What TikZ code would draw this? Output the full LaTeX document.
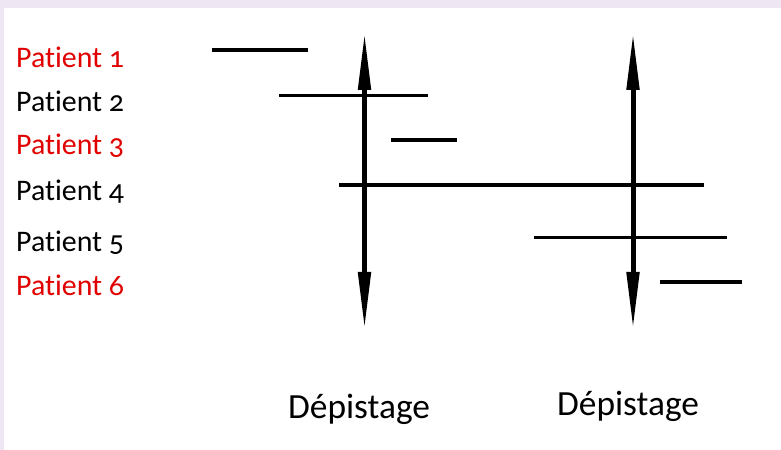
\documentclass[tikz,border=0pt]{standalone}
\usepackage{fontspec}
\setmainfont{Carlito}[Numbers=OldStyle,Ligatures={NoCommon}]
\usetikzlibrary{arrows.meta}
\definecolor{lav}{RGB}{238,230,243}
\definecolor{pred}{RGB}{225,0,0}
\tikzset{
  lbl/.style={anchor=base west, inner sep=0pt, font=\fontsize{30}{32}\selectfont},
  dep/.style={anchor=base west, inner sep=0pt, font=\fontsize{35.5}{38}\selectfont},
  seg/.style={line width=3.5bp, black},
  screen/.style={line width=5bp, {Triangle[length=58bp,width=12bp]}-{Triangle[length=58bp,width=12bp]}}
}
\begin{document}
\begin{tikzpicture}[x=1bp,y=-1bp]
\useasboundingbox (0,0) rectangle (781,450);
\fill[lav] (0,0) rectangle (781,450);
\fill[white] (4,8) rectangle (781,450);
% labels
\node[lbl, text=pred] (p1) at (16,68) {Patient 1};
\node[lbl] (p2) at (16,112) {Patient 2};
\node[lbl, text=pred] (p3) at (16,155) {Patient 3};
\node[lbl] (p4) at (16,201) {Patient 4};
\node[lbl] (p5) at (16,252) {Patient 5};
\node[lbl, text=pred] (p6) at (16,296) {Patient 6};
% periods
\coordinate (a1) at (212,50); \coordinate (b1) at (308,50);
\coordinate (a2) at (279,95.5); \coordinate (b2) at (428,95.5);
\coordinate (a3) at (391,140); \coordinate (b3) at (457,140);
\coordinate (a4) at (339,185); \coordinate (b4) at (704,185);
\coordinate (a5) at (534,237.5); \coordinate (b5) at (727,237.5);
\coordinate (a6) at (660,282); \coordinate (b6) at (742,282);
\draw[seg] (a1) -- (b1);
\draw[seg] (a2) -- (b2);
\draw[seg] (a3) -- (b3);
\draw[seg] (a4) -- (b4);
\draw[seg] (a5) -- (b5);
\draw[seg] (a6) -- (b6);
% screenings
\coordinate (s1t) at (364.5,32); \coordinate (s1b) at (364.5,330);
\coordinate (s2t) at (633,32); \coordinate (s2b) at (633,330);
\draw[screen] (s1b) -- (s1t);
\draw[screen] (s2b) -- (s2t);
\node[dep] (d1) at (288,418) {Dépistage};
\node[dep] (d2) at (557,415) {Dépistage};
\end{tikzpicture}
\end{document}
